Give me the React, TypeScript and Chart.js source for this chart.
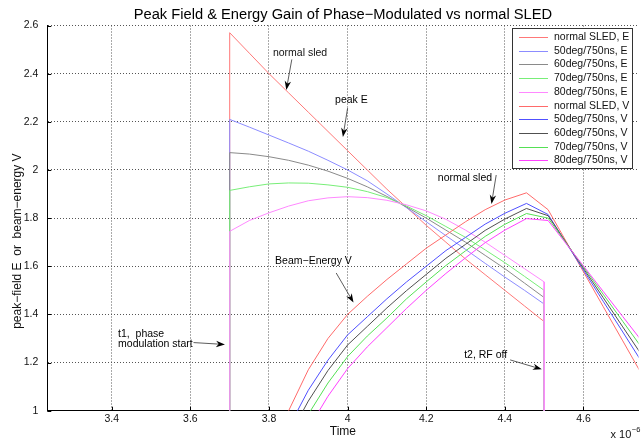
import React, { useEffect, useRef } from 'react';
import { Chart, registerables } from 'chart.js';

Chart.register(...registerables);

const FONT = '"Liberation Sans", Arial, Helvetica, sans-serif';

// ---- tick labels ----
const xTickValues = [3.4, 3.6, 3.8, 4.0, 4.2, 4.4, 4.6];
const yTickValues = [1, 1.2, 1.4, 1.6, 1.8, 2.0, 2.2, 2.4, 2.6];

// ---- peak field E (time in 1e-6 s) ----
const eTime = [3.7, 3.7, 3.75, 3.8, 3.85, 3.9, 3.95, 4.0, 4.05, 4.1, 4.15, 4.2, 4.25, 4.3, 4.35, 4.4, 4.45, 4.5, 4.5];
const eNormal = [0.9, 2.57, 2.485, 2.4, 2.32, 2.24, 2.16, 2.08, 2.0, 1.92, 1.845, 1.77, 1.7, 1.63, 1.565, 1.5, 1.435, 1.37, 0.9];
const e50 = [0.9, 2.21, 2.178, 2.145, 2.112, 2.078, 2.04, 2.0, 1.955, 1.9, 1.843, 1.785, 1.727, 1.67, 1.612, 1.555, 1.5, 1.443, 0.9];
const e60 = [0.9, 2.072, 2.066, 2.055, 2.04, 2.02, 1.995, 1.965, 1.93, 1.89, 1.846, 1.8, 1.75, 1.7, 1.645, 1.59, 1.53, 1.47, 0.9];
const e70 = [0.9, 1.915, 1.93, 1.942, 1.946, 1.945, 1.938, 1.928, 1.91, 1.885, 1.85, 1.81, 1.765, 1.72, 1.668, 1.615, 1.558, 1.5, 0.9];
const e80 = [0.9, 1.745, 1.79, 1.822, 1.85, 1.872, 1.884, 1.889, 1.885, 1.874, 1.855, 1.83, 1.795, 1.75, 1.7, 1.645, 1.59, 1.535, 0.9];

// ---- beam energy V ----
const vTime = [3.8, 3.85, 3.9, 3.95, 4.0, 4.05, 4.1, 4.15, 4.2, 4.25, 4.3, 4.35, 4.4, 4.455, 4.51, 4.55, 4.6, 4.65, 4.7, 4.75];
const vNormal = [0.83, 1.0, 1.17, 1.3, 1.4, 1.475, 1.545, 1.61, 1.675, 1.73, 1.785, 1.835, 1.875, 1.905, 1.835, 1.72, 1.577, 1.433, 1.29, 1.146];
const v50 = [0.76, 0.93, 1.085, 1.21, 1.315, 1.39, 1.465, 1.535, 1.6, 1.665, 1.72, 1.775, 1.82, 1.861, 1.815, 1.712, 1.584, 1.455, 1.327, 1.198];
const v60 = [0.72, 0.89, 1.04, 1.167, 1.273, 1.35, 1.427, 1.499, 1.566, 1.633, 1.691, 1.749, 1.796, 1.84, 1.81, 1.713, 1.591, 1.47, 1.348, 1.227];
const v70 = [0.67, 0.83, 0.985, 1.115, 1.225, 1.31, 1.385, 1.465, 1.535, 1.603, 1.664, 1.724, 1.774, 1.819, 1.8, 1.71, 1.597, 1.484, 1.371, 1.258];
const v80 = [0.61, 0.77, 0.925, 1.06, 1.175, 1.265, 1.345, 1.425, 1.5, 1.57, 1.635, 1.698, 1.75, 1.798, 1.79, 1.706, 1.601, 1.496, 1.391, 1.286];

const seriesLabels = [
  'normal SLED, E', '50deg/750ns, E', '60deg/750ns, E', '70deg/750ns, E', '80deg/750ns, E',
  'normal SLED, V', '50deg/750ns, V', '60deg/750ns, V', '70deg/750ns, V', '80deg/750ns, V',
];
const seriesColors = [
  '#ff7878', '#8c8cff', '#8a8a8a', '#78ee78', '#ff88ff',
  '#ff6a6a', '#5050ff', '#505050', '#55e055', '#ff40ff',
];

const chartTitle = 'Peak Field & Energy Gain of Phase\u2212Modulated vs normal SLED';
const yLabel = 'peak\u2212field E  or  beam\u2212energy V';

// annotations in data coordinates
const annotations = [
  { lines: ['normal sled'], tx: 3.81, ty: 2.486, ax0: 3.858, ay0: 2.459, ax1: 3.844, ay1: 2.332 },
  { lines: ['peak E'], tx: 3.968, ty: 2.291, ax0: 4.0, ay0: 2.257, ax1: 3.988, ay1: 2.137 },
  { lines: ['normal sled'], tx: 4.2295, ty: 1.965, ax0: 4.378, ay0: 1.979, ax1: 4.366, ay1: 1.859 },
  { lines: ['Beam\u2212Energy V'], tx: 3.8155, ty: 1.622, ax0: 3.971, ay0: 1.572, ax1: 4.015, ay1: 1.449 },
  { lines: ['t1,  phase', 'modulation start'], tx: 3.416, ty: 1.319, ax0: 3.608, ay0: 1.283, ax1: 3.688, ay1: 1.275 },
  { lines: ['t2, RF off'], tx: 4.2964, ty: 1.231, ax0: 4.4135, ay0: 1.211, ax1: 4.494, ay1: 1.172 },
];

const fmt = (v: number) => String(Math.round(v * 10) / 10);

function drawArrow(ctx: CanvasRenderingContext2D, x0: number, y0: number, x1: number, y1: number) {
  const ang = Math.atan2(y1 - y0, x1 - x0);
  const len = 9;
  const hw = 3.2;
  ctx.strokeStyle = '#333';
  ctx.lineWidth = 0.8;
  ctx.beginPath();
  ctx.moveTo(x0, y0);
  ctx.lineTo(x1 - Math.cos(ang) * len * 0.6, y1 - Math.sin(ang) * len * 0.6);
  ctx.stroke();
  const bx = x1 - Math.cos(ang) * len;
  const by = y1 - Math.sin(ang) * len;
  const nx = -Math.sin(ang);
  const ny = Math.cos(ang);
  const mx = x1 - Math.cos(ang) * len * 0.7;
  const my = y1 - Math.sin(ang) * len * 0.7;
  ctx.fillStyle = '#000';
  ctx.beginPath();
  ctx.moveTo(x1, y1);
  ctx.lineTo(bx + nx * hw, by + ny * hw);
  ctx.lineTo(mx, my);
  ctx.lineTo(bx - nx * hw, by - ny * hw);
  ctx.closePath();
  ctx.fill();
}

const innerTicksPlugin = {
  id: 'innerTicks',
  beforeDatasetsDraw(chart: any) {
    const { ctx, chartArea, scales } = chart;
    ctx.save();
    ctx.strokeStyle = '#000';
    ctx.lineWidth = 1;
    ctx.beginPath();
    for (const v of xTickValues) {
      const px = Math.round(scales.x.getPixelForValue(v)) + 0.5;
      ctx.moveTo(px, chartArea.bottom);
      ctx.lineTo(px, chartArea.bottom - 4);
    }
    for (const v of yTickValues) {
      const py = Math.round(scales.y.getPixelForValue(v)) + 0.5;
      ctx.moveTo(chartArea.left, py);
      ctx.lineTo(chartArea.left + 4, py);
    }
    ctx.stroke();
    ctx.restore();
  },
};

const annotationPlugin = {
  id: 'annots',
  afterDatasetsDraw(chart: any) {
    const { ctx, scales } = chart;
    const x = scales.x;
    const y = scales.y;
    ctx.save();
    ctx.font = `10.5px ${FONT}`;
    ctx.fillStyle = '#111';
    ctx.textBaseline = 'middle';
    ctx.textAlign = 'left';
    for (const a of annotations) {
      a.lines.forEach((line, k) => {
        ctx.fillText(line, x.getPixelForValue(a.tx), y.getPixelForValue(a.ty) + k * 10.5);
      });
      drawArrow(
        ctx,
        x.getPixelForValue(a.ax0), y.getPixelForValue(a.ay0),
        x.getPixelForValue(a.ax1), y.getPixelForValue(a.ay1),
      );
    }
    ctx.restore();
  },
};

const boxLegendPlugin = {
  id: 'boxLegend',
  afterDraw(chart: any) {
    const { ctx, chartArea } = chart;
    const right = chartArea.right - 6.5;
    const top = chartArea.top + 2.5;
    const w = 120;
    const h = 140;
    const left = right - w;
    ctx.save();
    ctx.fillStyle = '#fff';
    ctx.fillRect(left, top, w, h);
    ctx.strokeStyle = '#333';
    ctx.lineWidth = 1;
    ctx.strokeRect(Math.round(left) + 0.5, Math.round(top) + 0.5, w, h);
    ctx.font = `10.5px ${FONT}`;
    ctx.textBaseline = 'middle';
    ctx.textAlign = 'left';
    chart.data.datasets.forEach((ds: any, i: number) => {
      const cy = Math.round(top + 9 + i * 13.7) + 0.5;
      ctx.strokeStyle = seriesColors[i];
      ctx.lineWidth = 1;
      ctx.beginPath();
      ctx.moveTo(left + 7, cy);
      ctx.lineTo(left + 36, cy);
      ctx.stroke();
      ctx.fillStyle = '#111';
      ctx.fillText(ds.label, left + 42, cy);
    });
    ctx.restore();
  },
};

const axisTextPlugin = {
  id: 'axisText',
  afterDraw(chart: any) {
    const { ctx, chartArea } = chart;
    // title centred over the plot area
    ctx.save();
    ctx.font = `14.7px ${FONT}`;
    ctx.fillStyle = '#000';
    ctx.textAlign = 'center';
    ctx.textBaseline = 'alphabetic';
    ctx.fillText(chartTitle, (chartArea.left + chartArea.right) / 2, 18.5);
    ctx.restore();
    // y label
    ctx.save();
    ctx.translate(chartArea.left - 30, (chartArea.top + chartArea.bottom) / 2 + 23);
    ctx.rotate(-Math.PI / 2);
    ctx.font = `12px ${FONT}`;
    ctx.fillStyle = '#111';
    ctx.textAlign = 'center';
    ctx.textBaseline = 'middle';
    ctx.fillText(yLabel, 0, 0);
    ctx.restore();
    // exponent
    ctx.save();
    ctx.fillStyle = '#111';
    ctx.textBaseline = 'alphabetic';
    ctx.textAlign = 'left';
    ctx.font = `11px ${FONT}`;
    const bx = chartArea.right - 28;
    const by = chartArea.bottom + 27.5;
    ctx.fillText('x 10', bx, by);
    const w = ctx.measureText('x 10').width;
    ctx.font = `7.5px ${FONT}`;
    ctx.fillText('\u22126', bx + w + 0.5, by - 6.5);
    ctx.restore();
  },
};

export default function App() {
  const ref = useRef<HTMLCanvasElement | null>(null);

  useEffect(() => {
    if (!ref.current) return;
    const eSeries = [eNormal, e50, e60, e70, e80];
    const vSeries = [vNormal, v50, v60, v70, v80];
    const datasets: any[] = [];
    eSeries.forEach((vals, i) => {
      datasets.push({
        label: seriesLabels[i],
        data: eTime.map((t, k) => ({ x: t, y: vals[k] })),
        borderColor: seriesColors[i],
        borderWidth: 1,
        pointRadius: 0,
        tension: 0,
        fill: false,
        order: 20 - i,
      });
    });
    vSeries.forEach((vals, i) => {
      datasets.push({
        label: seriesLabels[5 + i],
        data: vTime.map((t, k) => ({ x: t, y: vals[k] })),
        borderColor: seriesColors[5 + i],
        borderWidth: 1,
        pointRadius: 0,
        tension: 0,
        fill: false,
        order: 15 - i,
      });
    });

    const chart = new Chart(ref.current, {
      type: 'line',
      data: { datasets },
      options: {
        animation: false,
        responsive: false,
        events: [],
        layout: { padding: { left: 0, right: 4.5, top: 25.5, bottom: 0 } },
        plugins: {
          legend: { display: false },
          tooltip: { enabled: false },
          title: { display: false },
        },
        scales: {
          x: {
            type: 'linear',
            min: 3.236,
            max: 4.74,
            afterBuildTicks: (s: any) => {
              s.ticks = xTickValues.map((v) => ({ value: v }));
            },
            afterFit: (s: any) => {
              s.height = 30.3;
            },
            ticks: {
              callback: (v: any) => fmt(Number(v)),
              font: { family: FONT, size: 10.5 },
              color: '#111',
              padding: 2,
              maxRotation: 0,
              autoSkip: false,
            },
            grid: { color: '#555', drawTicks: false, lineWidth: 1 },
            border: { display: true, color: '#000', width: 1, dash: [1, 2] },
            title: {
              display: true,
              text: 'Time',
              color: '#111',
              font: { family: FONT, size: 12 },
              padding: { top: 0, bottom: 2.5 },
            },
          },
          y: {
            type: 'linear',
            min: 1,
            max: 2.6,
            afterBuildTicks: (s: any) => {
              s.ticks = yTickValues.map((v) => ({ value: v }));
            },
            afterFit: (s: any) => {
              s.width = 47.3;
            },
            ticks: {
              callback: (v: any) => fmt(Number(v)),
              font: { family: FONT, size: 10.5 },
              color: '#111',
              padding: 9,
            },
            grid: { color: '#555', drawTicks: false, lineWidth: 1 },
            border: { display: true, color: '#000', width: 1, dash: [1, 2] },
          },
        },
      },
      plugins: [innerTicksPlugin, annotationPlugin, boxLegendPlugin, axisTextPlugin],
    });
    return () => chart.destroy();
  }, []);

  return (
    <div style={{ position: 'absolute', left: 0, top: 0, width: 643, height: 441, background: '#fff' }}>
      <canvas ref={ref} width={643} height={441} style={{ display: 'block' }} />
    </div>
  );
}
